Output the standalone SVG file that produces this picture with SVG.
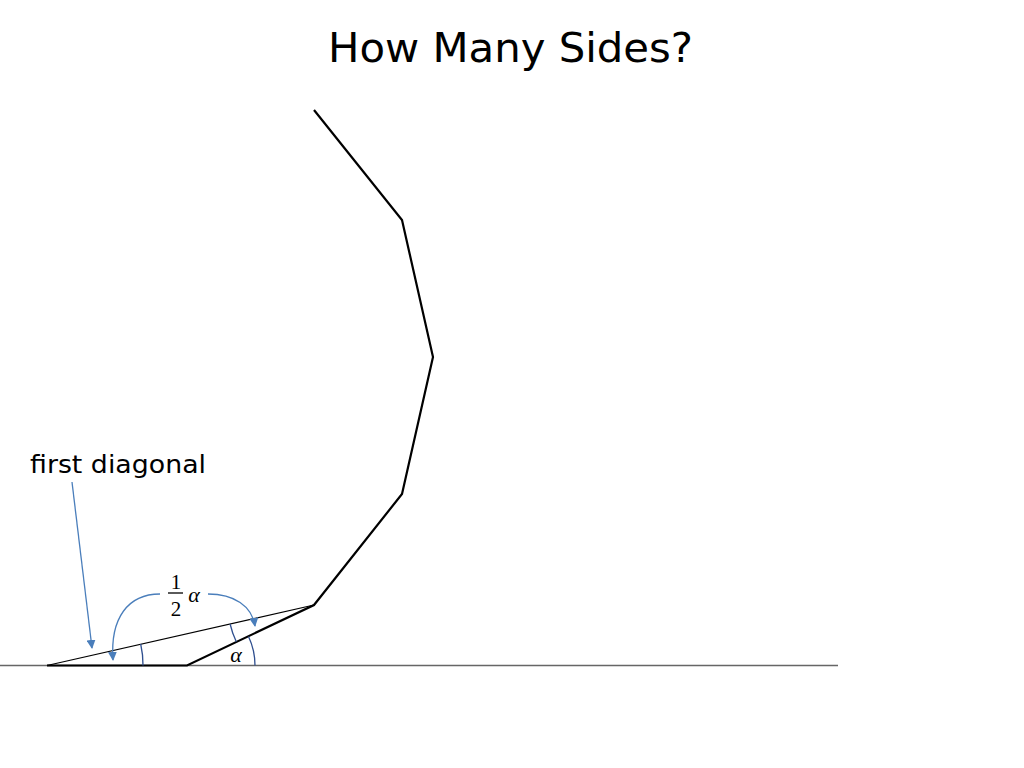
<svg xmlns="http://www.w3.org/2000/svg" width="1024" height="768" viewBox="0 0 1024 768">
<style>
.t{font-family:"DejaVu Sans","Open Sans",sans-serif;fill:#000}
.m{font-family:"Liberation Serif","DejaVu Serif",serif;fill:#000}
.blue{fill:none;stroke:#4a7ebb;stroke-width:1.3}
.arc{fill:none;stroke:#2f4f8f;stroke-width:1.3}
</style>
<defs>
<marker id="ah" viewBox="0 0 10 10" refX="9" refY="5" markerWidth="9" markerHeight="9" orient="auto" markerUnits="userSpaceOnUse">
<path d="M0,0 L10,5 L0,10 z" fill="#4a7ebb"/>
</marker>
</defs>
<rect width="1024" height="768" fill="#fff"/>
<text id="title" class="t" x="328" y="62" font-size="41" textLength="365" lengthAdjust="spacingAndGlyphs">How Many Sides?</text>
<g id="baseline"><line x1="0" y1="665.5" x2="838" y2="665.5" stroke="#666" stroke-width="1.5"/></g>
<g id="polygon"><polyline points="47,665.5 187,665.5 314,605 402,494 433,357 402,220 314,110" fill="none" stroke="#000" stroke-width="2.2" stroke-linejoin="miter"/></g>
<g id="diagonal"><line x1="47" y1="665.5" x2="314" y2="605" stroke="#000" stroke-width="1.2"/></g>
<g id="angles">
<path class="arc" d="M143,665.5 A96,96 0 0 0 140.7,644"/>
<path class="arc" d="M255,665.5 A68,68 0 0 0 248.5,636.5"/>
<path class="arc" d="M230.1,624 A86,86 0 0 0 236.3,641.7"/>
</g>
<g id="labels">
<text id="first-diagonal" class="t" x="30" y="473" font-size="25" textLength="176" lengthAdjust="spacingAndGlyphs">first diagonal</text>
<text class="m" x="176" y="589" font-size="21" text-anchor="middle">1</text>
<line x1="168" y1="593" x2="183" y2="593" stroke="#000" stroke-width="1.3"/>
<text class="m" x="176" y="616" font-size="21" text-anchor="middle">2</text>
<text class="m" x="194" y="602" font-size="22" font-style="italic" text-anchor="middle">α</text>
<text class="m" x="236" y="662" font-size="22" font-style="italic" text-anchor="middle">α</text>
</g>
<g id="connectors">
<line class="blue" x1="72" y1="482" x2="92" y2="648" marker-end="url(#ah)"/>
<path class="blue" d="M160,594 C128,594 110,618 113,660" marker-end="url(#ah)"/>
<path class="blue" d="M208,594 C234,594 252,606 255,626" marker-end="url(#ah)"/>
</g>
</svg>
